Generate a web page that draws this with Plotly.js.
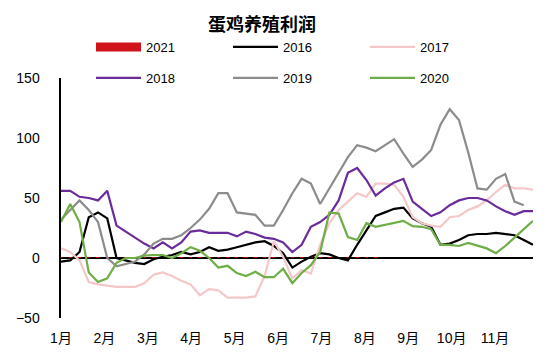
<!DOCTYPE html>
<html>
<head>
<meta charset="utf-8">
<script src="https://cdn.plot.ly/plotly-3.0.1.min.js"></script>
<style>html,body{margin:0;padding:0;background:#fff;}#chart{width:550px;height:357px;}</style>
</head>
<body>
<div id="chart"></div>
<script>
// Month tick labels
const monthLabels = ['1月','2月','3月','4月','5月','6月','7月','8月','9月','10月','11月'];

// Weekly egg-layer farming profit series
const s2021 = [1,1,1,1,1,1,1,1,1,1,1,1,1,1,1,1,1,1,1,1,1,1,1,1,1,1,1,1,1,1,1,1,1,1,1];
const s2016 = [-3,-2,5,34,38,33,0,-2,-4,-5,-1,1,2.5,5,3,5,9,6,7,9,11,13,14,10,4,-8,-3,1,4,3,0,-2,11,23,35,38,41,42,33,29,26,11,12,15,19,20,20,21,20,19,15,11];
const s2017 = [8,5,-2,-20,-22,-23,-24,-24,-24,-21,-14,-12,-15,-19,-22,-31,-26,-27,-33,-33,-33,-32,-15,14,1,-17,-10,-13,11,29,40,47,54,51,62,62,61,51,34,29,27,26,34,35,40,43,48,55,61,58,58,57];
const s2018 = [56,56,51,50,48,56,27,22,17,12,8,13,8,13,22,23,21,21,21,18,22,20,17,16,13,5,11,26,30,36,48,71,75,65,52,58,63,66,47,41,35,38,44,48,50,50,48,43,39,36,39,39];
const s2019 = [32,40,48,40,30,0,-7,-5,-3,3,12,16,16,19,25,32,41,54,54,38,37,36,27,27,40,54,66,62,45,58,70,84,94,92,89,94,99,87,76,82,90,111,124,115,88,58,57,66,70,47,44,null];
const s2020 = [30,45,30,-12,-20,-17,-4,0,0,2,2.5,2.5,0,4,9,6,0,-8,-6.5,-12.5,-15,-11.5,-16,-16,-9,-21,-12.5,-6,5,38,37,17.5,15,29,26,27.5,29,31,26.5,26,24,11,11,10,12.5,10,8,4,10,17,24,31];
const yTicks = [-50, 0, 50, 100, 150];

const idx = arr => arr.map((_, i) => i);
const MONTH_STEP = 4.69; // weeks between month labels on the axis
const FONT = 'Liberation Sans, Arial, Noto Sans CJK SC, sans-serif';

function line(name, data, color, legend) {
  return {type: 'scatter', mode: 'lines', name: name, x: idx(data), y: data,
          line: {color: color, width: 2.2}, legend: legend, connectgaps: false,
          hoverinfo: 'skip'};
}

const traces = [
  {type: 'bar', name: '2021', x: idx(s2021), y: s2021, width: 0.35,
   marker: {color: '#c00000'}, showlegend: false, legendgroup: 'g2021', hoverinfo: 'skip'},
  {type: 'scatter', mode: 'lines', name: '2021', x: [null], y: [null],
   line: {color: '#d0121a', width: 9}, legend: 'legend', legendgroup: 'g2021'},
  line('2016', s2016, '#000000', 'legend'),
  line('2017', s2017, '#f4c7c9', 'legend'),
  line('2018', s2018, '#6b2c9b', 'legend2'),
  line('2019', s2019, '#8c8c8c', 'legend2'),
  line('2020', s2020, '#6fad47', 'legend2')
];

const legendCommon = {
  orientation: 'h', xref: 'paper', yref: 'paper', xanchor: 'left', yanchor: 'middle',
  x: 30/472, entrywidth: 77, entrywidthmode: 'pixels', itemwidth: 45,
  font: {family: FONT, size: 13, color: '#000'}, bgcolor: 'rgba(0,0,0,0)', borderwidth: 0,
  itemclick: false, itemdoubleclick: false
};

const layout = {
  width: 550, height: 357,
  margin: {l: 61, r: 17, t: 78, b: 39},
  paper_bgcolor: '#fff', plot_bgcolor: '#fff',
  font: {family: FONT, size: 14, color: '#000'},
  title: {text: '<b>蛋鸡养殖利润</b>', xref: 'container', yref: 'container',
          x: 262/550, xanchor: 'center', y: 1 - 25/357, yanchor: 'middle',
          font: {family: 'Noto Sans CJK SC, sans-serif', size: 18, color: '#000'}},
  showlegend: true,
  legend: Object.assign({}, legendCommon, {y: (318 - 47) / 240}),
  legend2: Object.assign({}, legendCommon, {y: (318 - 78) / 240}),
  bargap: 0,
  xaxis: {range: [0, 51], showgrid: false, zeroline: false, showline: false,
          tickvals: monthLabels.map((_, i) => i * MONTH_STEP), ticktext: monthLabels,
          ticks: '', ticklabelstandoff: 10, tickfont: {family: FONT, size: 14, color: '#000'},
          fixedrange: true},
  yaxis: {range: [-50, 150], tickvals: yTicks, showgrid: false,
          zeroline: true, zerolinecolor: '#000', zerolinewidth: 2,
          showline: true, linecolor: '#000', linewidth: 2.5,
          ticks: '', ticklabelstandoff: 16, tickfont: {family: FONT, size: 14, color: '#000'},
          fixedrange: true}
};

Plotly.newPlot('chart', traces, layout, {displayModeBar: false, staticPlot: true});
</script>
</body>
</html>
